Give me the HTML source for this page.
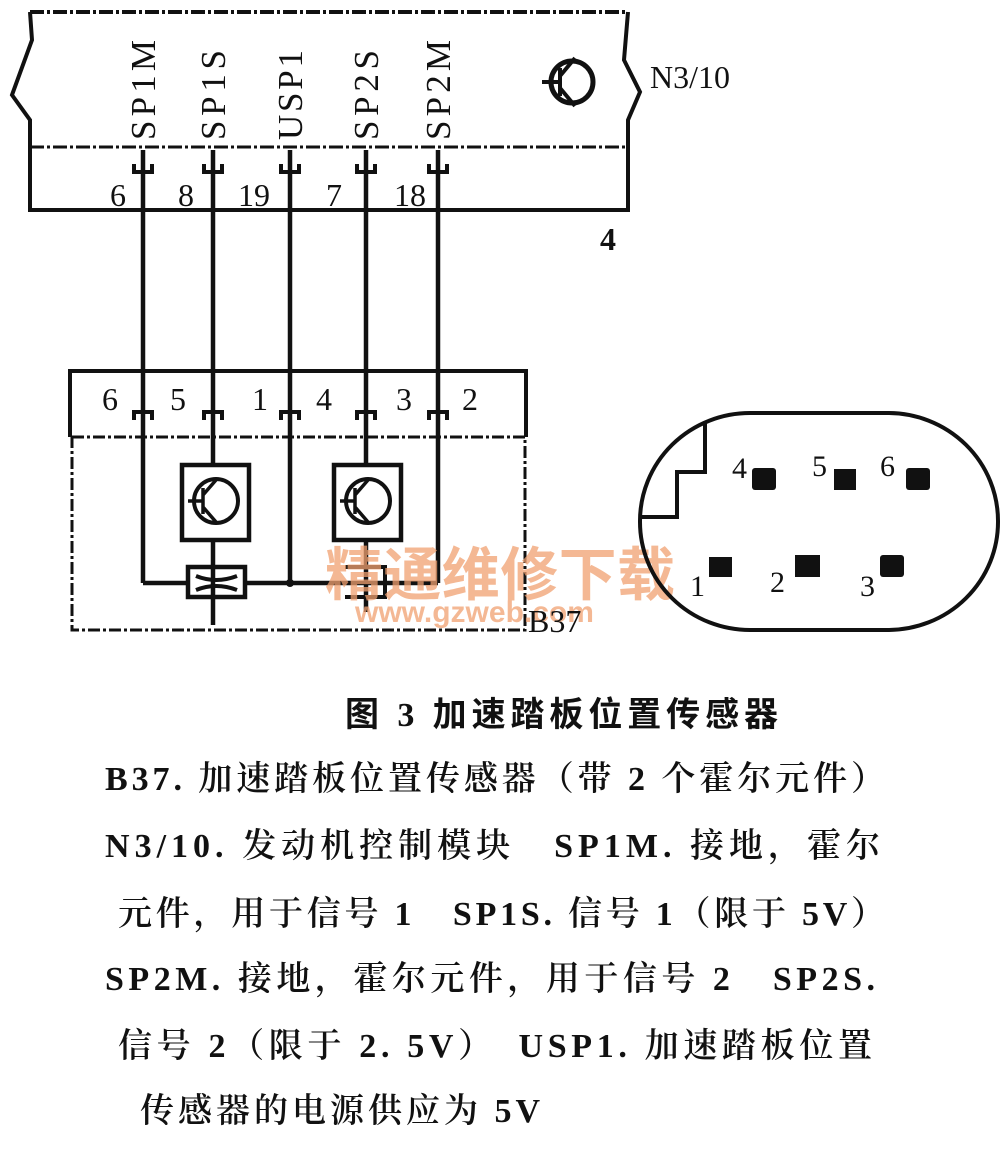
<!DOCTYPE html>
<html><head><meta charset="utf-8"><style>
html,body{margin:0;padding:0;background:#fff;}
svg{display:block;}
.s{font-family:"Liberation Serif","Noto Serif CJK SC",serif;fill:#111;}
</style></head><body>
<svg width="1001" height="1170" viewBox="0 0 1001 1170" xmlns="http://www.w3.org/2000/svg">
<g stroke="#111" fill="none" stroke-width="4">
<polyline points="30,12 32,40 12,95 30,120 30,210"/>
<polyline points="628,12 624,60 640,92 628,120 628,210"/>
<line x1="30" y1="12" x2="628" y2="12" stroke-dasharray="14,3,3,3"/>
<line x1="30" y1="147" x2="625" y2="147" stroke-dasharray="14,3,3,3" stroke-width="3"/>
<line x1="28" y1="210" x2="630" y2="210"/>
<circle cx="572" cy="82" r="21" stroke-width="5"/>
<line x1="542" y1="82" x2="560" y2="82"/>
<line x1="560" y1="68" x2="560" y2="96"/>
<line x1="560" y1="76" x2="575" y2="58"/>
<line x1="560" y1="88" x2="575" y2="106"/>
</g>
<g stroke="#111" fill="none" stroke-width="4.5">
<line x1="143" y1="150" x2="143" y2="583"/>
<line x1="213" y1="150" x2="213" y2="465"/>
<line x1="290" y1="150" x2="290" y2="583"/>
<line x1="366" y1="150" x2="366" y2="465"/>
<line x1="438" y1="150" x2="438" y2="583"/>
<g stroke-width="4">
<path d="M134,164 v8 h18 v-8"/><path d="M204,164 v8 h18 v-8"/><path d="M281,164 v8 h18 v-8"/><path d="M357,164 v8 h18 v-8"/><path d="M429,164 v8 h18 v-8"/>
<path d="M134,420 v-8 h18 v8"/><path d="M204,420 v-8 h18 v8"/><path d="M281,420 v-8 h18 v8"/><path d="M357,420 v-8 h18 v8"/><path d="M429,420 v-8 h18 v8"/>
</g>
<polyline points="70,437 70,371 526,371 526,437" stroke-width="4"/>
<rect x="72" y="437" width="453" height="193" stroke-dasharray="12,3,3,3" stroke-width="3"/>
<rect x="182" y="465" width="67" height="75" stroke-width="4.5"/>
<rect x="334" y="465" width="67" height="75" stroke-width="4.5"/>
<circle cx="216" cy="501" r="22" stroke-width="4"/>
<circle cx="368" cy="501" r="22" stroke-width="4"/>
<path d="M188,501 h15 M203,488 v26 M203,495 l13,-15 M203,507 l13,15" stroke-width="3.5"/>
<path d="M340,501 h15 M355,488 v26 M355,495 l13,-15 M355,507 l13,15" stroke-width="3.5"/>
<line x1="213" y1="540" x2="213" y2="625"/>
<line x1="366" y1="540" x2="366" y2="612"/>
<line x1="143" y1="583" x2="188" y2="583"/>
<line x1="245" y1="583" x2="438" y2="583"/>
<rect x="188" y="567" width="57" height="30" stroke-width="4.5"/>
<path d="M196,576 q20,8 41,0 M196,590 q20,-8 41,0" stroke-width="4"/>
<path d="M345,567 h40 v30 h-40" stroke-width="4"/>
</g>
<circle cx="290" cy="583" r="4" fill="#111"/>
<text x="325" y="595" font-family="Noto Sans CJK SC,sans-serif" font-size="58" font-weight="bold" fill="#f0a070" fill-opacity="0.75" textLength="350">精通维修下载</text>
<text x="355" y="622" font-family="Liberation Sans,sans-serif" font-size="30" font-weight="bold" fill="#f0a070" fill-opacity="0.75">www.gzweb.com</text>
<g class="s" font-size="35">
<text transform="translate(155,140) rotate(-90)" textLength="100">SP1M</text>
<text transform="translate(225,140) rotate(-90)" textLength="90">SP1S</text>
<text transform="translate(302,140) rotate(-90)" textLength="90">USP1</text>
<text transform="translate(378,140) rotate(-90)" textLength="90">SP2S</text>
<text transform="translate(450,140) rotate(-90)" textLength="100">SP2M</text>
</g>
<g class="s" font-size="32">
<text x="110" y="206">6</text><text x="178" y="206">8</text><text x="238" y="206">19</text><text x="326" y="206">7</text><text x="394" y="206">18</text>
<text x="650" y="88">N3/10</text>
<text x="600" y="250" font-weight="bold">4</text>
<text x="102" y="410">6</text><text x="170" y="410">5</text><text x="252" y="410">1</text><text x="316" y="410">4</text><text x="396" y="410">3</text><text x="462" y="410">2</text>
<text x="528" y="632">B37</text>
</g>
<g stroke="#111" fill="none" stroke-width="4">
<rect x="640" y="413" width="358" height="217" rx="110" ry="108"/>
<polyline points="705,422 705,472 677,472 677,517 642,517"/>
</g>
<g fill="#111">
<rect x="752" y="468" width="24" height="22" rx="3"/><rect x="834" y="469" width="22" height="21"/><rect x="906" y="468" width="24" height="22" rx="3"/>
<rect x="709" y="557" width="23" height="20"/><rect x="795" y="555" width="25" height="22"/><rect x="880" y="555" width="24" height="22" rx="3"/>
</g>
<g class="s" font-size="30">
<text x="732" y="478">4</text><text x="812" y="476">5</text><text x="880" y="476">6</text>
<text x="690" y="596">1</text><text x="770" y="592">2</text><text x="860" y="596">3</text>
</g>
<g class="s" font-size="34" font-weight="600">
<text x="345" y="726" font-weight="bold" textLength="433" font-family="Liberation Serif,Noto Sans CJK SC,sans-serif">图 3 加速踏板位置传感器</text>
<text x="105" y="790" textLength="780">B37. 加速踏板位置传感器（带 2 个霍尔元件）</text>
<text x="105" y="857" textLength="775">N3/10. 发动机控制模块　SP1M. 接地，霍尔</text>
<text x="118" y="925" textLength="767">元件，用于信号 1　SP1S. 信号 1（限于 5V）</text>
<text x="105" y="990" textLength="770">SP2M. 接地，霍尔元件，用于信号 2　SP2S.</text>
<text x="118" y="1057" textLength="754">信号 2（限于 2. 5V）　USP1. 加速踏板位置</text>
<text x="140" y="1122" textLength="400">传感器的电源供应为 5V</text>
</g>
</svg>
</body></html>
